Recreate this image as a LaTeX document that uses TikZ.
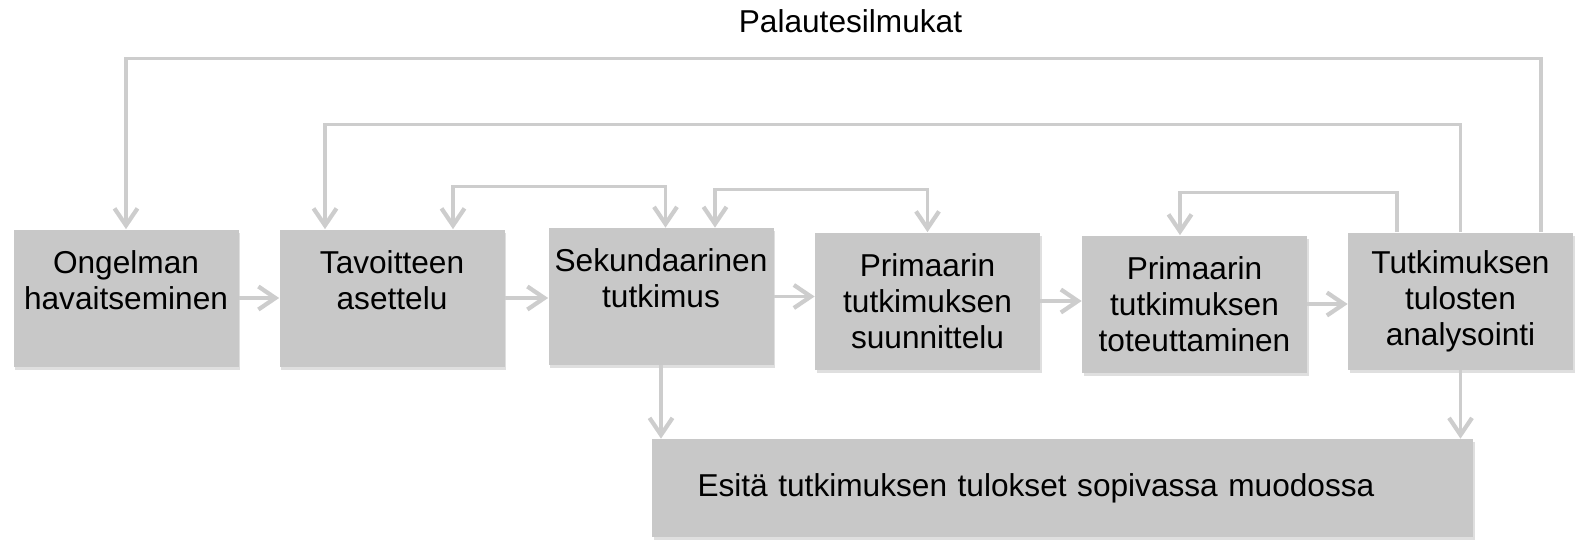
\documentclass[tikz,border=0pt]{standalone}
\usepackage{fontspec}
\setmainfont{Liberation Sans}
\usetikzlibrary{arrows.meta, shadows}
\usepackage{xcolor}
\definecolor{boxgray}{RGB}{200, 200, 200}
\definecolor{linegray}{RGB}{205, 205, 205}
\definecolor{textdark}{RGB}{0, 0, 0}

\begin{document}
\begin{tikzpicture}[
    process/.style={rectangle, fill=boxgray, minimum width=4.5cm, minimum height=2.74cm, inner sep=0pt, align=center, font=\fontsize{18}{20.5}\selectfont, text=textdark, drop shadow={shadow xshift=0.3mm, shadow yshift=-0.6mm, opacity=0.25}},
    arrow/.style={-{Straight Barb[length=3.4mm, width=4.6mm, line width=2.4pt]}, line width=1.8pt, color=linegray},
    twoway/.style={{Straight Barb[length=3.4mm, width=4.6mm, line width=2.4pt]}-{Straight Barb[length=3.4mm, width=4.6mm, line width=2.4pt]}, line width=1.8pt, color=linegray},
]
\useasboundingbox (0,0) rectangle (31.5,-10.82);

% Title
\node[anchor=base, font=\fontsize{18}{20.5}\selectfont] (title) at (17.01,-0.64) {Palautesilmukat};

% Process steps
\node[process] (problem) at (2.52, -5.96) {Ongelman\\havaitseminen\\\mbox{}};
\node[process] (goal) at (7.84, -5.96) {Tavoitteen\\asettelu\\\mbox{}};
\node[process] (secondary) at (13.22, -5.93) {Sekundaarinen\\tutkimus\\\mbox{}};
\node[process] (plan) at (18.55, -6.02) {Primaarin\\tutkimuksen\\suunnittelu};
\node[process] (execute) at (23.89, -6.08) {Primaarin\\tutkimuksen\\toteuttaminen};
\node[process] (analyse) at (29.21, -6.02) {Tutkimuksen\\tulosten\\analysointi};

% Result
\node[process, minimum width=16.42cm, minimum height=1.96cm, text width=14.6cm, inner xsep=0.9cm, align=left] (present) at (21.25, -9.76) {Esitä tutkimuksen tulokset sopivassa muodossa};

% Arrows
\draw[arrow] (problem.east) -- (problem.east -| goal.west);
\draw[arrow] (goal.east) -- (goal.east -| secondary.west);
\draw[arrow] (secondary.east) -- (secondary.east -| plan.west);
\draw[arrow] (plan.east) -- (plan.east -| execute.west);
\draw[arrow] (execute.east) -- (execute.east -| analyse.west);
\draw[arrow] (secondary.south) -- (secondary.south |- present.north);
\draw[arrow] (analyse.south) -- (analyse.south |- present.north);

% Feedback loops
\draw[arrow] ([xshift=1.61cm]analyse.north) -- ++(0,3.48) -| (problem.north);
\draw[arrow] (analyse.north) -- ++(0,2.16) -| ([xshift=-1.34cm]goal.north);
\draw[twoway] ([xshift=1.22cm]goal.north) -- ++(0,0.86) -| ([xshift=0.09cm]secondary.north);
\draw[twoway] ([xshift=1.08cm]secondary.north) -- ++(0,0.76) -| (plan.north);
\draw[arrow] ([xshift=-1.27cm]analyse.north) -- ++(0,0.8) -| ([xshift=-0.29cm]execute.north);

\end{tikzpicture}
\end{document}
